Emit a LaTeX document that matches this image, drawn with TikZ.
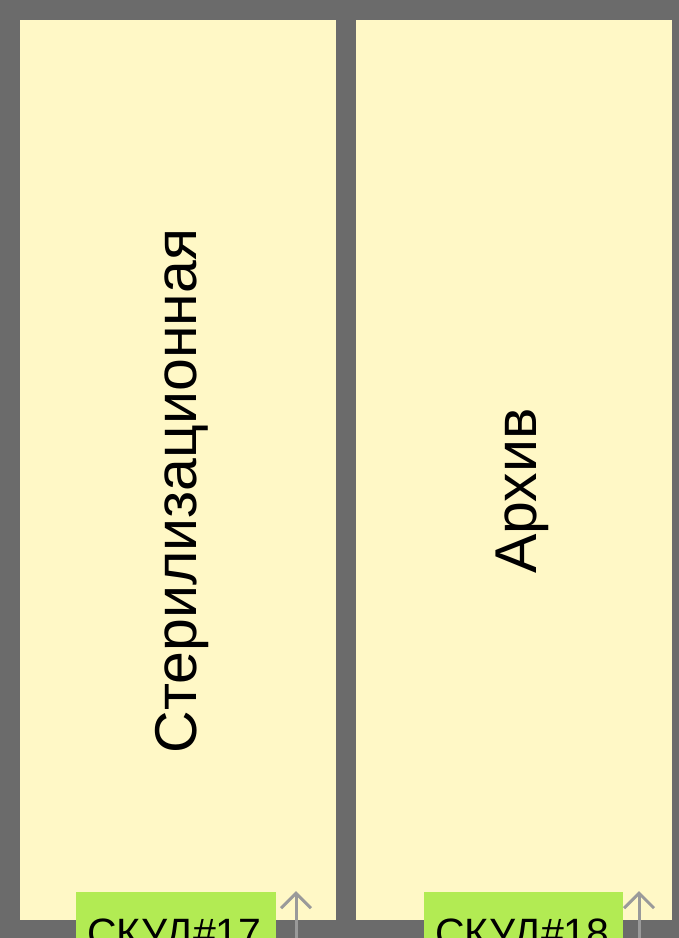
\documentclass[tikz,border=0pt]{standalone}
\usepackage{fontspec}
\setmainfont{Liberation Sans}
\usetikzlibrary{arrows.meta}
\definecolor{bgc}{HTML}{6B6B6B}
\definecolor{roomc}{HTML}{FFF8C6}
\definecolor{tagc}{HTML}{B2EB53}
\definecolor{arrc}{HTML}{9A9A9A}
\begin{document}
\begin{tikzpicture}[x=1pt,y=-1pt,
  room/.style={fill=roomc,draw=none},
  tag/.style={fill=tagc,draw=none},
  roomlabel/.style={rotate=90,anchor=base,inner sep=0pt,font=\fontsize{59}{63}\selectfont},
  taglabel/.style={anchor=base west,inner sep=0pt,font=\fontsize{41}{45}\selectfont},
  doorarrow/.style={draw=arrc,line width=3pt,-{Straight Barb[length=15pt,width=30pt,line width=3pt]}}]
\useasboundingbox (0,0) rectangle (679,938);
\clip (0,0) rectangle (679,938);
\fill[bgc] (0,0) rectangle (679,938);
\path[room] (20,20) rectangle (336,920);
\path[room] (356,20) rectangle (672,920);
\node[roomlabel] (l1) at (196,491) {Стерилизационная};
\node[roomlabel] (l2) at (536,491) {Архив};
\path[tag] (76,892) rectangle (276,960);
\path[tag] (424,892) rectangle (623,960);
\node[taglabel] (t1) at (87,947) {СКУД\#17};
\node[taglabel] (t2) at (435,947) {СКУД\#18};
\coordinate (a1s) at (296,960);
\coordinate (a1e) at (296,891);
\coordinate (a2s) at (639,960);
\coordinate (a2e) at (639,891);
\draw[doorarrow] (a1s) -- (a1e);
\draw[doorarrow] (a2s) -- (a2e);
\end{tikzpicture}
\end{document}
